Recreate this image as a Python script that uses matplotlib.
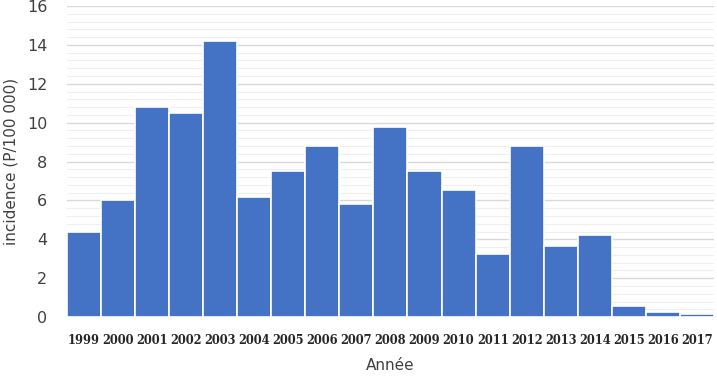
import numpy as np
import matplotlib.pyplot as plt
from matplotlib.ticker import MultipleLocator

years = [str(y) for y in range(1999, 2018)]
incidence = [4.4, 6.0, 10.8, 10.5, 14.2, 6.2, 7.5, 8.8, 5.8, 9.8,
             7.5, 6.55, 3.25, 8.8, 3.65, 4.2, 0.55, 0.25, 0.15]

fig = plt.figure(figsize=(7.17, 3.77), dpi=100)
ax = fig.add_axes([0.093, 0.159, 0.903, 0.825])

x = np.arange(len(years))
ax.bar(x, incidence, width=1.0, color='#4472C4', edgecolor='white', linewidth=1.2, zorder=3)

ax.set_xlim(-0.5, len(years) - 0.5)
ax.set_ylim(0, 16)
ax.yaxis.set_major_locator(MultipleLocator(2))
ax.yaxis.set_minor_locator(MultipleLocator(0.4))
ax.grid(axis='y', which='major', color='#d9d9d9', linewidth=1.0, zorder=0)
ax.grid(axis='y', which='minor', color='#efefef', linewidth=0.8, zorder=0)

for s in ax.spines.values():
    s.set_visible(False)

ax.set_xticks(x)
ax.set_xticklabels(years, fontfamily='DejaVu Serif', fontsize=8.3, fontweight='bold', color='#262626')
ax.tick_params(axis='x', length=0, pad=12)
ax.tick_params(axis='y', which='both', length=0, labelsize=11.5, labelcolor='#404040', pad=14)

ax.set_ylabel('incidence (P/100 000)', fontsize=11, color='#404040', labelpad=6)
ax.set_xlabel('Année', fontsize=11, color='#404040', labelpad=8)

fig.savefig('out.png', dpi=100)
